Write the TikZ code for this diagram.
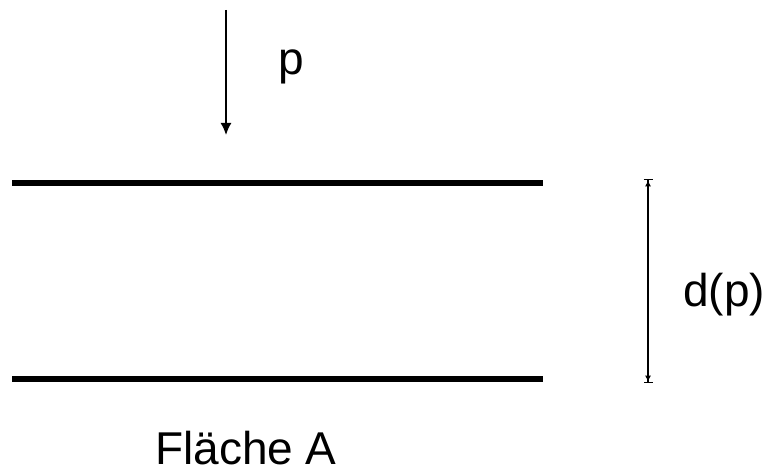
\documentclass[tikz,border=0pt]{standalone}
\usepackage{fontspec}
\setmainfont{Liberation Sans}
\usetikzlibrary{arrows.meta}

\begin{document}
\begin{tikzpicture}[x=1pt,y=-1pt,>={Latex[length=12pt,width=11pt]},
  plate/.style={line width=6.5pt},
  lbl/.style={inner sep=0pt,anchor=base west,font=\fontsize{46}{55}\selectfont}]
 \useasboundingbox (0,0) rectangle (768,468);
 % plates
 \coordinate (tl) at (12,183);
 \coordinate (tr) at (543,183);
 \coordinate (bl) at (12,379);
 \coordinate (br) at (543,379);
 \draw[plate] (tl) -- (tr);
 \draw[plate] (bl) -- (br);
 % pressure
 \coordinate (ptop) at (226,10);
 \coordinate (pbot) at (226,135);
 \draw[->,line width=1.6pt] (ptop) -- (pbot);
 \node[lbl] (plabel) at (278,75) {p};
 % distance
 \coordinate (dtop) at (648,179);
 \coordinate (dbot) at (648,383);
 \draw[{Bar[width=9pt]Latex[length=6pt,width=6pt]}-{Latex[length=6pt,width=6pt]Bar[width=9pt]},line width=1.3pt] (dtop) -- (dbot);
 \node[lbl] (dlabel) at (683,306) {d(p)};
 \node[lbl] (area) at (155,464) {Fläche A};
\end{tikzpicture}
\end{document}
